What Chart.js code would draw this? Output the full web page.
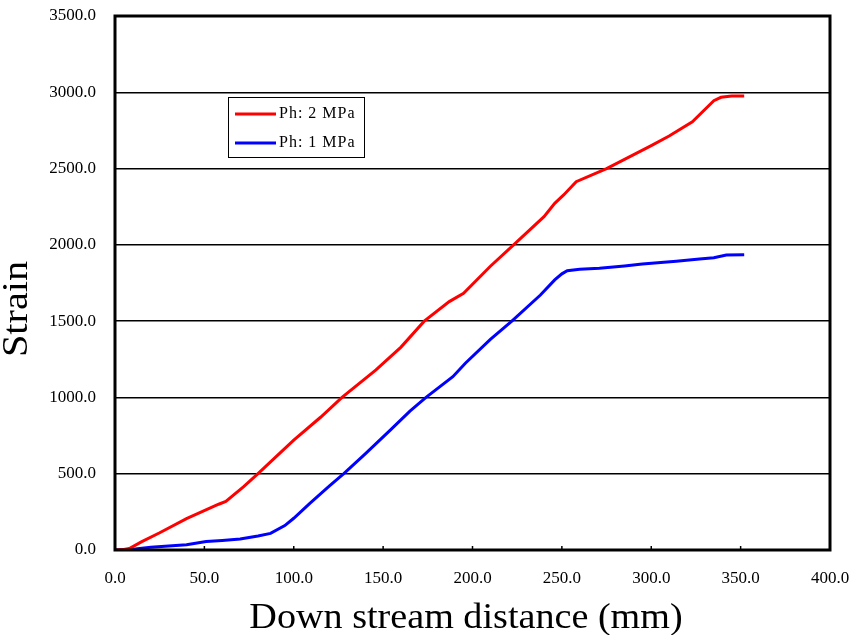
<!DOCTYPE html>
<html>
<head>
<meta charset="utf-8">
<script src="https://cdn.jsdelivr.net/npm/chart.js@4/dist/chart.umd.min.js"></script>
<style>
  html, body { margin: 0; padding: 0; background: #fff; }
  #wrap { width: 856px; height: 635px; }
</style>
</head>
<body>
<div id="wrap"><canvas id="myChart" width="856" height="635"></canvas></div>
<script>
// strain along the down stream distance, two pressure cases
const seriesNames = ['Ph: 2 MPa', 'Ph: 1 MPa'];
const seriesColors = ['#ff0000', '#0000ff'];

const dist2 = [0, 5, 8, 15, 25, 40, 58, 62, 72, 80, 90, 100, 115, 127, 146, 160, 173, 187, 195, 210, 223, 240, 246, 251, 258, 275, 300, 310, 323, 335, 339, 345, 352];
const strain2 = [0, 3, 10, 55, 113, 205, 300, 318, 415, 500, 610, 720, 870, 1000, 1180, 1330, 1500, 1628, 1682, 1860, 2000, 2185, 2272, 2327, 2414, 2500, 2650, 2713, 2807, 2945, 2967, 2975, 2975];

const dist1 = [0, 10, 20, 30, 40, 51, 60, 70, 80, 87, 95, 100, 109, 120, 128, 140, 154, 165, 174, 189, 196, 210, 222, 238, 246, 250, 253, 260, 271, 285, 295, 314, 327, 335, 342, 352];
const strain1 = [0, 5, 18, 26, 35, 55, 62, 72, 92, 109, 160, 208, 306, 420, 500, 630, 786, 910, 1000, 1136, 1224, 1380, 1500, 1671, 1770, 1810, 1830, 1840, 1846, 1862, 1874, 1892, 1907, 1915, 1933, 1935];

const xTicks = [0, 50, 100, 150, 200, 250, 300, 350, 400];
const yTicks = [0, 500, 1000, 1500, 2000, 2500, 3000, 3500];

const xTitle = 'Down stream distance (mm)';
const yTitle = 'Strain';

const toPoints = (xs, ys) => xs.map((x, i) => ({ x: x, y: ys[i] }));

const serif = "'Liberation Serif', 'Times New Roman', serif";

// frame, inner ticks on the x axis, axis titles and the boxed legend
const framePlugin = {
  id: 'frame',
  afterDraw(chart) {
    const ctx = chart.ctx;
    const a = chart.chartArea;
    const xs = chart.scales.x;
    ctx.save();
    ctx.strokeStyle = '#000';
    ctx.lineWidth = 1.5;
    xTicks.forEach(v => {
      const px = xs.getPixelForValue(v);
      ctx.beginPath();
      ctx.moveTo(px, a.bottom);
      ctx.lineTo(px, a.bottom - 4);
      ctx.stroke();
    });
    ctx.lineWidth = 3;
    ctx.strokeRect(a.left, a.top, a.right - a.left, a.bottom - a.top);

    // axis titles, the serif face is drawn a little wide
    ctx.fillStyle = '#000';
    ctx.font = '35px ' + serif;
    ctx.textAlign = 'center';
    ctx.textBaseline = 'alphabetic';
    ctx.save();
    ctx.translate(466, 628);
    ctx.scale(1.09, 1);
    ctx.fillText(xTitle, 0, 0);
    ctx.restore();
    ctx.save();
    ctx.translate(27, 309);
    ctx.rotate(-Math.PI / 2);
    ctx.scale(1.15, 1);
    ctx.fillText(yTitle, 0, 0);
    ctx.restore();

    // legend
    const bx = a.left + 113, by = a.top + 81;
    ctx.textAlign = 'left';
    ctx.lineWidth = 1;
    ctx.fillStyle = '#fff';
    ctx.fillRect(bx, by, 136, 60);
    ctx.strokeRect(bx + 0.5, by + 0.5, 136, 60);
    ctx.font = '16px ' + serif;
    ctx.letterSpacing = '1px';
    ctx.textBaseline = 'middle';
    chart.data.datasets.forEach((ds, i) => {
      const ly = by + 17 + i * 29;
      ctx.strokeStyle = ds.borderColor;
      ctx.lineWidth = 3;
      ctx.beginPath();
      ctx.moveTo(bx + 7, ly);
      ctx.lineTo(bx + 48, ly);
      ctx.stroke();
      ctx.fillStyle = '#000';
      ctx.fillText(ds.label, bx + 51, ly);
    });
    ctx.restore();
  }
};

const ctx = document.getElementById('myChart');

const chart = new Chart(ctx, {
  type: 'scatter',
  data: {
    datasets: [
      {
        label: seriesNames[0],
        data: toPoints(dist2, strain2),
        showLine: true,
        borderColor: seriesColors[0],
        backgroundColor: seriesColors[0],
        borderWidth: 3,
        pointRadius: 0,
        tension: 0
      },
      {
        label: seriesNames[1],
        data: toPoints(dist1, strain1),
        showLine: true,
        borderColor: seriesColors[1],
        backgroundColor: seriesColors[1],
        borderWidth: 3,
        pointRadius: 0,
        tension: 0
      }
    ]
  },
  options: {
    responsive: false,
    animation: false,
    layout: { padding: { top: 16, right: 26, left: 0, bottom: 0 } },
    plugins: {
      legend: { display: false },
      tooltip: { enabled: false }
    },
    scales: {
      x: {
        type: 'linear',
        min: 0,
        max: 400,
        afterBuildTicks: s => { s.ticks = xTicks.map(v => ({ value: v })); },
        afterFit: s => {
          s.height = 85;
          s.paddingLeft = 0;
          s.paddingRight = 0;
        },
        grid: { display: false, drawTicks: false },
        border: { display: false },
        ticks: {
          color: '#000',
          padding: 18,
          maxRotation: 0,
          font: { family: serif, size: 17 },
          callback: v => v.toFixed(1)
        }
      },
      y: {
        type: 'linear',
        min: 0,
        max: 3500,
        afterBuildTicks: s => { s.ticks = yTicks.map(v => ({ value: v })); },
        afterFit: s => {
          s.width = 115;
          s.paddingTop = 0;
          s.paddingBottom = 0;
        },
        grid: { color: '#000', lineWidth: 1.5, drawTicks: false },
        border: { display: false },
        ticks: {
          color: '#000',
          padding: 19,
          font: { family: serif, size: 17 },
          callback: v => v.toFixed(1)
        }
      }
    }
  },
  plugins: [framePlugin]
});
</script>
</body>
</html>
